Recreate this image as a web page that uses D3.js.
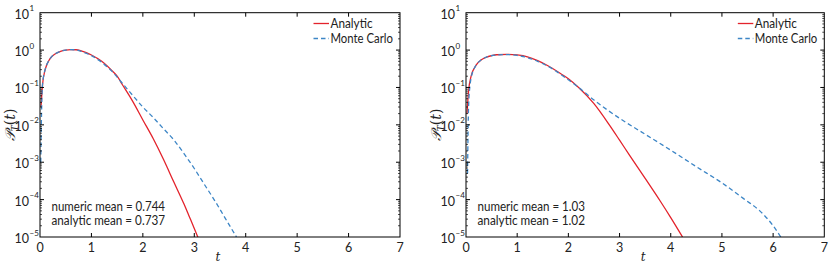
<!DOCTYPE html>
<html><head><meta charset="utf-8">
<script src="https://cdn.jsdelivr.net/npm/d3@7"></script>
<style>
html,body{margin:0;padding:0;background:#fff;}
</style></head>
<body><svg id="chart" width="831" height="263" font-family="Lato, 'Open Sans', sans-serif"></svg>
<script>
// ---- data ----
const xTicks = [0,1,2,3,4,5,6,7];
const yTickExps = [-5,-4,-3,-2,-1,0,1];
const legendLabels = ["Analytic","Monte Carlo"];

const tAnaL  = [0.02,0.05,0.1,0.2,0.3,0.4,0.5,0.6,0.7,0.8,0.9,1.0,1.2,1.4,1.5,1.6,1.8,2.0,2.2,2.4,2.6,2.8,2.9,3.0,3.08];
const anaL   = [0.03,0.12,0.3,0.6,0.8,0.93,1.0,1.03,1.02,0.95,0.85,0.74,0.5,0.28,0.2,0.12,0.043,0.0135,4.3e-3,1.2e-3,3.0e-4,7.6e-5,3.6e-5,1.7e-5,9.1e-6];
const tMcL   = [0.015,0.03,0.045,0.07,0.1,0.2,0.3,0.4,0.5,0.6,0.7,0.8,0.9,1.0,1.2,1.4,1.6,1.8,2.0,2.2,2.4,2.6,2.8,3.0,3.2,3.4,3.6,3.82];
const mcL    = [1e-3,0.02,0.1,0.2,0.3,0.6,0.8,0.93,1.0,1.03,1.01,0.93,0.82,0.71,0.47,0.27,0.13,0.062,0.03,0.0158,7.9e-3,4.0e-3,1.7e-3,6.8e-4,2.5e-4,9.3e-5,3.2e-5,1e-5];

const tAnaR  = [0.02,0.05,0.1,0.2,0.3,0.4,0.5,0.6,0.8,1.0,1.2,1.4,1.6,1.8,2.0,2.2,2.5,2.8,3.0,3.2,3.5,3.8,4.0,4.23];
const anaR   = [0.02,0.08,0.2,0.4,0.55,0.65,0.71,0.75,0.77,0.74,0.66,0.52,0.38,0.26,0.17,0.1,0.037,0.01,3.9e-3,1.5e-3,3.7e-4,8.9e-5,3.3e-5,1e-5];
const tMcR   = [0.03,0.05,0.08,0.1,0.2,0.3,0.4,0.6,0.8,1.0,1.2,1.4,1.6,1.8,2.0,2.2,2.5,3.0,3.5,4.0,4.5,5.0,5.45,5.74,6.0,6.15];
const mcR    = [5e-4,0.03,0.12,0.18,0.4,0.55,0.65,0.74,0.76,0.72,0.63,0.5,0.37,0.25,0.16,0.1,0.046,0.015,5.6e-3,2.1e-3,7.6e-4,2.8e-4,1e-4,5.0e-5,2.0e-5,1e-5];

const meansL = ["numeric mean = 0.744","analytic mean = 0.737"];
const meansR = ["numeric mean = 1.03","analytic mean = 1.02"];

const RED = "#e3232c", BLUE = "#3d86c6";
const svg = d3.select("#chart");

function panel(x0, x1, ana, tA, mc, tM, means, meanW, id){
  const top = 12.7, bottom = 237;
  const x = d3.scaleLinear().domain([0,7]).range([x0,x1]);
  const y = d3.scaleLog().domain([1e-5,10]).range([bottom,top]);
  const g = svg.append("g");
  g.append("clipPath").attr("id","clip"+id).append("rect")
    .attr("x",x0).attr("y",top).attr("width",x1-x0).attr("height",bottom-top);

  // curves
  const line = d3.line().x(d=>x(d[0])).y(d=>y(d[1])).curve(d3.curveMonotoneX);
  const cg = g.append("g").attr("clip-path","url(#clip"+id+")");
  cg.append("path").datum(d3.zip(tA,ana)).attr("d",line)
    .attr("fill","none").attr("stroke",RED).attr("stroke-width",1.3);
  cg.append("path").datum(d3.zip(tM,mc)).attr("d",line)
    .attr("fill","none").attr("stroke",BLUE).attr("stroke-width",1.3)
    .attr("stroke-dasharray","4.5,3");

  // frame
  g.append("rect").attr("x",x0).attr("y",top).attr("width",x1-x0).attr("height",bottom-top)
    .attr("fill","none").attr("stroke","#000").attr("stroke-width",1);

  // x ticks (inward, top and bottom)
  xTicks.forEach(v=>{
    const px = x(v);
    if(v>0 && v<7){
      g.append("line").attr("x1",px).attr("x2",px).attr("y1",bottom).attr("y2",bottom-4).attr("stroke","#000");
      g.append("line").attr("x1",px).attr("x2",px).attr("y1",top).attr("y2",top+4).attr("stroke","#000");
    }
    g.append("text").attr("x",px).attr("y",251.5).attr("text-anchor","middle")
      .attr("font-size",12.5).attr("fill","#222").text(v);
  });
  g.append("text").attr("x",(x0+x1)/2-2).attr("y",261).attr("text-anchor","middle")
    .attr("font-family","'DejaVu Serif',serif").attr("font-style","italic").attr("font-size",12).attr("fill","#222").text("t");

  // y ticks: major + minor, left and right
  yTickExps.forEach(e=>{
    const py = y(Math.pow(10,e));
    if(e>-5 && e<1){
      g.append("line").attr("x1",x0).attr("x2",x0+4).attr("y1",py).attr("y2",py).attr("stroke","#000");
      g.append("line").attr("x1",x1).attr("x2",x1-4).attr("y1",py).attr("y2",py).attr("stroke","#000");
    }
    if(e<1){
      for(let m=2;m<=9;m++){
        const pm = y(m*Math.pow(10,e));
        g.append("line").attr("x1",x0).attr("x2",x0+2).attr("y1",pm).attr("y2",pm).attr("stroke","#000").attr("stroke-width",0.7);
        g.append("line").attr("x1",x1).attr("x2",x1-2).attr("y1",pm).attr("y2",pm).attr("stroke","#000").attr("stroke-width",0.7);
      }
    }
    g.append("text").attr("x",x0-11).attr("y",py+6).attr("text-anchor","end")
      .attr("font-size",12.5).attr("fill","#222").text("10");
    g.append("text").attr("x",x0-10.5).attr("y",py-1.5).attr("text-anchor","start")
      .attr("font-size",8).attr("fill","#222").text(e<0 ? "\u2212"+(-e) : String(e));
  });

  // y label
  const yl = g.append("text").attr("transform",`translate(${x0-25},${(top+bottom)/2}) rotate(-90)`)
    .attr("text-anchor","middle").attr("font-family","'DejaVu Serif',serif").attr("font-size",14).attr("fill","#222");
  yl.append("tspan").attr("font-style","italic").text("\uD835\uDCAB");
  yl.append("tspan").attr("font-style","italic").attr("font-size",9).attr("dy",3).text("T");
  yl.append("tspan").attr("dy",-3).text("(");
  yl.append("tspan").attr("font-style","italic").text("t");
  yl.append("tspan").text(")");

  // legend
  const lx = x1 - 86.5, ly = 23.5;
  const legW = [42, 62.5];
  [RED,BLUE].forEach((c,i)=>{
    g.append("line").attr("x1",lx).attr("x2",lx+15.5).attr("y1",ly+i*15).attr("y2",ly+i*15)
      .attr("stroke",c).attr("stroke-width",1.3).attr("stroke-dasharray", i? "4.5,3":null);
    g.append("text").attr("x",lx+17).attr("y",ly+i*15+4.5).attr("fill","#222")
      .attr("font-size",12.5).attr("textLength",legW[i]).attr("lengthAdjust","spacingAndGlyphs")
      .text(legendLabels[i]);
  });

  // means
  means.forEach((s,i)=>{
    g.append("text").attr("x",x0+11.5).attr("y",210.5+i*14.5).attr("fill","#222")
      .attr("font-size",12.5).attr("textLength",meanW[i]).attr("lengthAdjust","spacingAndGlyphs")
      .text(s);
  });
}

panel(40, 400, anaL, tAnaL, mcL, tMcL, meansL, [113.5,113.5], "L");
panel(466, 824.3, anaR, tAnaR, mcR, tMcR, meansR, [107.5,107.5], "R");
</script></body></html>
